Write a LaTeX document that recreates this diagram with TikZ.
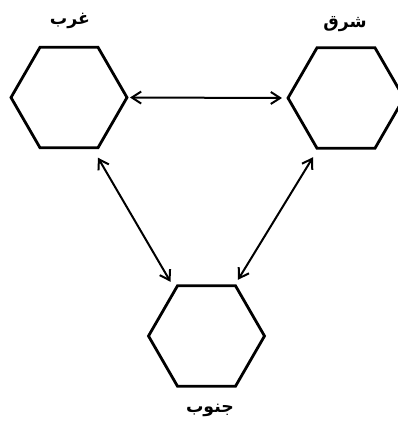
\documentclass[tikz,border=0pt]{standalone}
\usepackage{fontspec}
\newfontfamily\arabicfont[Script=Arabic]{DejaVu Sans}
\TeXXeTstate=1
\usetikzlibrary{shapes.geometric,arrows.meta,calc}
\begin{document}
\begin{tikzpicture}[x=0.75pt,y=-0.75pt,
  hexa/.style={draw, line width=2.1pt, regular polygon, regular polygon sides=6, minimum size=87pt, inner sep=0pt, outer sep=0pt},
  lbl/.style={font=\arabicfont\bfseries\fontsize{13}{15}\selectfont, inner sep=0pt},
  link/.style={<->, >={Straight Barb[length=7pt,width=9pt,line width=1.5pt]}, line width=1.5pt}]
\clip (0,0) rectangle (398,426);
\node[hexa] (west) at (69,97.5) {};
\node[hexa] (east) at (346,98) {};
\node[hexa] (south) at (206.5,336) {};
\node[lbl] (lwest) at (70,21) {\beginR غرب\endR};
\node[lbl] (least) at (345,24) {\beginR شرق\endR};
\node[lbl] (lsouth) at (210,410) {\beginR جنوب\endR};
\draw[link] ($(west.0)+(3,0)$) -- ($(east.180)+(-6,0)$);
\draw[link] ($(west.-60)+(0,10)$) -- ($(south.120)+(-7,-4)$);
\draw[link] ($(east.-120)+(-4,9)$) -- ($(south.60)+(2.5,-6)$);
\end{tikzpicture}
\end{document}
